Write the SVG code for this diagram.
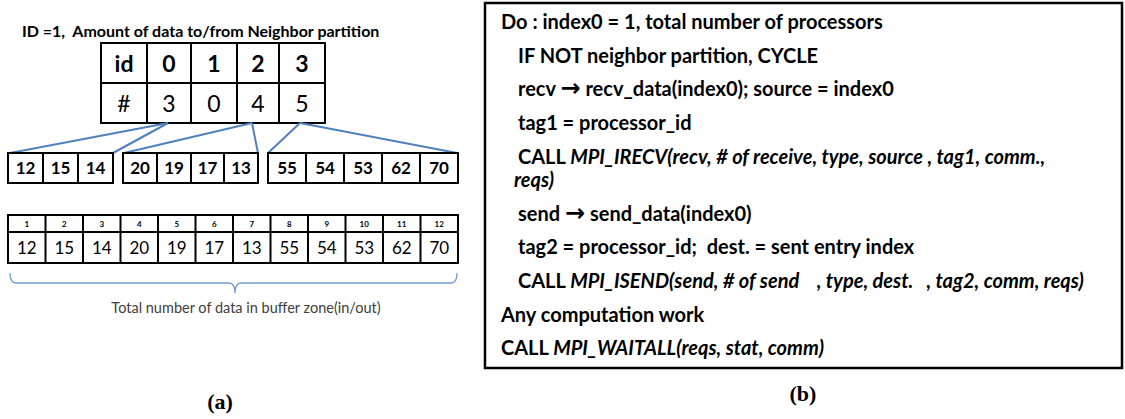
<svg xmlns="http://www.w3.org/2000/svg" width="1125" height="419" viewBox="0 0 1125 419">
<style>
.t{font-family:Lato,"Liberation Sans",sans-serif;fill:#000}
.b{font-weight:bold}
.i{font-style:italic}
.ar{font-family:"DejaVu Sans",sans-serif;font-weight:bold;font-style:normal;font-size:24px}
.cell{fill:#fff;stroke:#000;stroke-width:2}
.conn{stroke:#4f81bd;stroke-width:2;fill:none}
.code{font-family:Lato,"Liberation Sans",sans-serif;font-weight:bold;font-size:20px;fill:#000;white-space:pre}
.lab{font-family:"Liberation Serif",serif;font-weight:bold;font-size:22px;text-anchor:middle}
.big{font-size:23px;text-anchor:middle}
.mid{font-size:17px;text-anchor:middle}
.sm{font-size:8px;text-anchor:middle;font-weight:bold}
</style>
<rect width="1125" height="419" fill="#fff"/>

<g id="title">
<text class="t b" x="22" y="37" font-size="16" xml:space="preserve" style="white-space:pre">ID =1,  Amount of data to/from Neighbor partition</text>
</g>

<g id="neighbor-table">
<rect class="cell" x="101" y="43" width="224" height="80"/>
<line x1="101" y1="83" x2="325" y2="83" stroke="#000" stroke-width="2"/>
<line x1="147" y1="43" x2="147" y2="123" stroke="#000" stroke-width="2"/>
<line x1="191" y1="43" x2="191" y2="123" stroke="#000" stroke-width="2"/>
<line x1="237" y1="43" x2="237" y2="123" stroke="#000" stroke-width="2"/>
<line x1="279" y1="43" x2="279" y2="123" stroke="#000" stroke-width="2"/>
<text class="t b big" x="124" y="72">id</text>
<text class="t b big" x="169" y="72">0</text>
<text class="t b big" x="214" y="72">1</text>
<text class="t b big" x="258" y="72">2</text>
<text class="t b big" x="302" y="72">3</text>
<text class="t big" x="124" y="112">#</text>
<text class="t big" x="169" y="112">3</text>
<text class="t big" x="214" y="112">0</text>
<text class="t big" x="258" y="112">4</text>
<text class="t big" x="302" y="112">5</text>
</g>

<g id="connectors">
<line class="conn" x1="168" y1="123" x2="10" y2="153"/>
<line class="conn" x1="168" y1="123" x2="113" y2="153"/>
<line class="conn" x1="252" y1="123" x2="124" y2="153"/>
<line class="conn" x1="252" y1="123" x2="258" y2="153"/>
<line class="conn" x1="300" y1="123" x2="268" y2="153"/>
<line class="conn" x1="300" y1="123" x2="457" y2="153"/>
</g>

<g id="group-0">
<rect class="cell" x="8" y="153" width="35" height="30"/>
<rect class="cell" x="43" y="153" width="35" height="30"/>
<rect class="cell" x="78" y="153" width="35" height="30"/>
<text class="t b mid" x="25.5" y="174">12</text>
<text class="t b mid" x="60.5" y="174">15</text>
<text class="t b mid" x="95.5" y="174">14</text>
</g>

<g id="group-2">
<rect class="cell" x="123" y="153" width="34" height="30"/>
<rect class="cell" x="157" y="153" width="34" height="30"/>
<rect class="cell" x="191" y="153" width="33" height="30"/>
<rect class="cell" x="224" y="153" width="34" height="30"/>
<text class="t b mid" x="140" y="174">20</text>
<text class="t b mid" x="174" y="174">19</text>
<text class="t b mid" x="207.5" y="174">17</text>
<text class="t b mid" x="241" y="174">13</text>
</g>

<g id="group-3">
<rect class="cell" x="268" y="153" width="38" height="30"/>
<rect class="cell" x="306" y="153" width="38" height="30"/>
<rect class="cell" x="344" y="153" width="38" height="30"/>
<rect class="cell" x="382" y="153" width="38" height="30"/>
<rect class="cell" x="420" y="153" width="38" height="30"/>
<text class="t b mid" x="287" y="174">55</text>
<text class="t b mid" x="325" y="174">54</text>
<text class="t b mid" x="363" y="174">53</text>
<text class="t b mid" x="401" y="174">62</text>
<text class="t b mid" x="439" y="174">70</text>
</g>

<g id="buffer-table">
<rect class="cell" x="8" y="215" width="450" height="48"/>
<line x1="8" y1="232" x2="458" y2="232" stroke="#000" stroke-width="2"/>
<g stroke="#000" stroke-width="2">
<line x1="45.5" y1="215" x2="45.5" y2="263"/>
<line x1="83" y1="215" x2="83" y2="263"/>
<line x1="120.5" y1="215" x2="120.5" y2="263"/>
<line x1="158" y1="215" x2="158" y2="263"/>
<line x1="195.5" y1="215" x2="195.5" y2="263"/>
<line x1="233" y1="215" x2="233" y2="263"/>
<line x1="270.5" y1="215" x2="270.5" y2="263"/>
<line x1="308" y1="215" x2="308" y2="263"/>
<line x1="345.5" y1="215" x2="345.5" y2="263"/>
<line x1="383" y1="215" x2="383" y2="263"/>
<line x1="420.5" y1="215" x2="420.5" y2="263"/>
</g>
<g class="t sm">
<text x="26.75" y="227">1</text>
<text x="64.25" y="227">2</text>
<text x="101.75" y="227">3</text>
<text x="139.25" y="227">4</text>
<text x="176.75" y="227">5</text>
<text x="214.25" y="227">6</text>
<text x="251.75" y="227">7</text>
<text x="289.25" y="227">8</text>
<text x="326.75" y="227">9</text>
<text x="364.25" y="227">10</text>
<text x="401.75" y="227">11</text>
<text x="439.25" y="227">12</text>
</g>
<g class="t mid">
<text x="26.75" y="254">12</text>
<text x="64.25" y="254">15</text>
<text x="101.75" y="254">14</text>
<text x="139.25" y="254">20</text>
<text x="176.75" y="254">19</text>
<text x="214.25" y="254">17</text>
<text x="251.75" y="254">13</text>
<text x="289.25" y="254">55</text>
<text x="326.75" y="254">54</text>
<text x="364.25" y="254">53</text>
<text x="401.75" y="254">62</text>
<text x="439.25" y="254">70</text>
</g>
</g>

<g id="brace">
<path d="M10,273 Q10,283 16,283 L229,283 Q235,283 235,293 Q235,283 241,283 L451,283 Q457,283 457,273" fill="none" stroke="#6f9ad2" stroke-width="1.3"/>
<text x="246" y="313" font-family="Lato,'Liberation Sans',sans-serif" font-size="14.5" text-anchor="middle" fill="#404040">Total number of data in buffer zone(in/out)</text>
</g>

<g id="code-box">
<rect x="485" y="3" width="637" height="365" fill="#fff" stroke="#000" stroke-width="2.5"/>
<text class="code" x="501" y="29">Do : index0 = 1, total number of processors</text>
<text class="code" x="518" y="63">IF NOT neighbor partition, CYCLE</text>
<text class="code" x="518" y="96">recv <tspan class="ar">→</tspan> recv_data(index0); source = index0</text>
<text class="code" x="518" y="130">tag1 = processor_id</text>
<text class="code" x="518" y="164">CALL <tspan class="i">MPI_IRECV(recv, # of receive, type, source , tag1, comm.,</tspan></text>
<text class="code i" x="514" y="187">reqs)</text>
<text class="code" x="518" y="221">send <tspan class="ar">→</tspan> send_data(index0)</text>
<text class="code" x="518" y="254" xml:space="preserve">tag2 = processor_id;  dest. = sent entry index</text>
<text class="code" x="518" y="288" xml:space="preserve">CALL <tspan class="i">MPI_ISEND(send, # of send    , type, dest.   , tag2, comm, reqs)</tspan></text>
<text class="code" x="501" y="322">Any computation work</text>
<text class="code" x="501" y="355">CALL <tspan class="i">MPI_WAITALL(reqs, stat, comm)</tspan></text>
</g>

<g id="labels">
<text class="lab" x="220" y="409">(a)</text>
<text class="lab" x="803" y="401">(b)</text>
</g>
</svg>
